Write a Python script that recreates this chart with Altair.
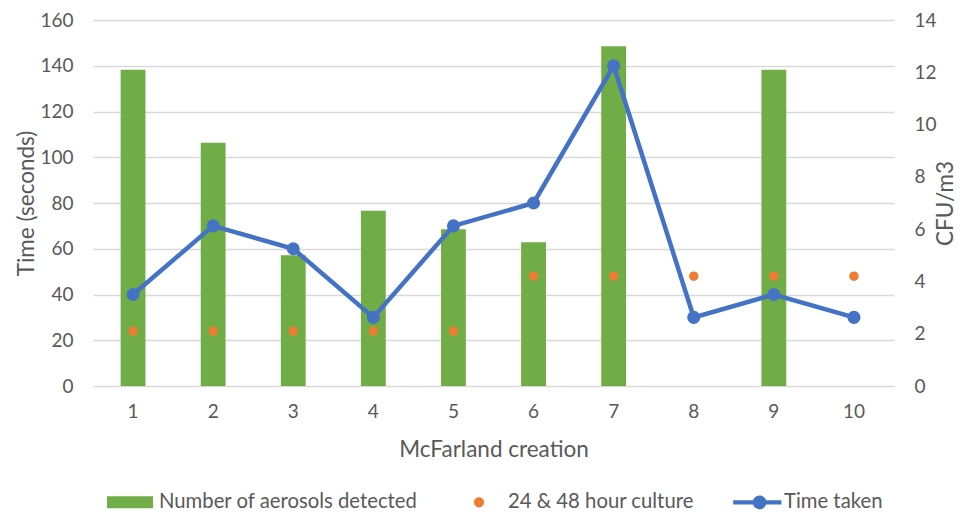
import altair as alt
import pandas as pd

# ---- data ----
runs = [1, 2, 3, 4, 5, 6, 7, 8, 9, 10]
aerosols_cfu = [12.1, 9.3, 5.0, 6.7, 6.0, 5.5, 13.0, 0, 12.1, 0]      # right axis (CFU/m3)
culture_hours = [24, 24, 24, 24, 24, 48, 48, 48, 48, 48]              # left axis
time_taken = [40, 70, 60, 30, 70, 80, 140, 30, 40, 30]                # left axis (seconds)
series_names = ["Number of aerosols detected", "24 & 48 hour culture", "Time taken"]
series_colors = ["#70ad47", "#ed7d31", "#4472c4"]
left_ticks = [0, 20, 40, 60, 80, 100, 120, 140, 160]
right_ticks = [0, 2, 4, 6, 8, 10, 12, 14]

df = pd.DataFrame({"run": runs, "cfu": aerosols_cfu,
                   "culture": culture_hours, "time": time_taken})
legend_df = pd.DataFrame({"series": series_names, "run": [1, 1, 1], "time": [0, 0, 0]})

FONT = "Lato"
GREY = "#595959"

legend_paths = [
    "M-1,-0.26H1V0.26H-1Z",
    "M0.22,0A0.22,0.22 0 1,1 -0.22,0A0.22,0.22 0 1,1 0.22,0Z",
    "M-0.95,-0.09H0V0.09H-0.95Z M0.45,-0.09H1.15V0.09H0.45Z "
    "M0.5,0A0.3,0.3 0 1,1 -0.1,0A0.3,0.3 0 1,1 0.5,0Z",
]

x_enc = alt.X(
    "run:O",
    scale=alt.Scale(type="band", paddingInner=0.69, paddingOuter=0.345),
    axis=alt.Axis(title="McFarland creation", labelAngle=0, ticks=False,
                  domain=False, labelPadding=16, titlePadding=17),
)

bars = alt.Chart(df).mark_bar(color=series_colors[0]).encode(
    x=x_enc,
    y=alt.Y("cfu:Q", scale=alt.Scale(domain=[0, 14]),
            axis=alt.Axis(orient="right", values=right_ticks, grid=False,
                          title="CFU/m3", titleAngle=270, ticks=False,
                          domain=False, labelPadding=20, titlePadding=21)),
)

left_y = alt.Y("time:Q", scale=alt.Scale(domain=[0, 160]),
               axis=alt.Axis(orient="left", values=left_ticks, grid=True,
                             title="Time (seconds)", ticks=False, domain=False,
                             labelPadding=20, titlePadding=1))

line = alt.Chart(df).mark_line(color=series_colors[2], strokeWidth=4.5).encode(
    x=x_enc, y=left_y)
line_pts = alt.Chart(df).mark_point(color=series_colors[2], filled=True,
                                    opacity=1, size=170).encode(x=x_enc, y="time:Q")
dots = alt.Chart(df).mark_point(color=series_colors[1], filled=True,
                                opacity=1, size=90).encode(x=x_enc, y="culture:Q")

leg = alt.Legend(title=None, orient="none", legendX=14, legendY=459,
                 direction="horizontal", symbolSize=2116, symbolStrokeWidth=0,
                 symbolOpacity=1, labelFont=FONT, labelFontSize=20.3,
                 labelColor=GREY, labelOffset=6, columnPadding=38,
                 labelLimit=500)

legend_layer = alt.Chart(legend_df).mark_point(filled=True, opacity=0).encode(
    x=x_enc,
    y="time:Q",
    color=alt.Color("series:N", scale=alt.Scale(domain=series_names, range=series_colors),
                    legend=leg),
    shape=alt.Shape("series:N", scale=alt.Scale(domain=series_names, range=legend_paths),
                    legend=leg),
)

left_group = alt.layer(line, dots, line_pts, legend_layer)

chart = alt.layer(bars, left_group).resolve_scale(y="independent").properties(
    width=801, height=366,
    autosize=alt.AutoSizeParams(type="none"),
    padding={"left": 85, "top": 12, "right": 68, "bottom": 129},
).configure_axis(
    labelFont=FONT, labelFontSize=19, labelColor=GREY,
    titleFont=FONT, titleFontSize=22.5, titleColor=GREY, titleFontWeight="normal",
    gridColor="#d9d9d9", gridWidth=1.3,
).configure_view(stroke=None)

chart.save("out.html", embed_options={"renderer": "svg", "actions": False})
